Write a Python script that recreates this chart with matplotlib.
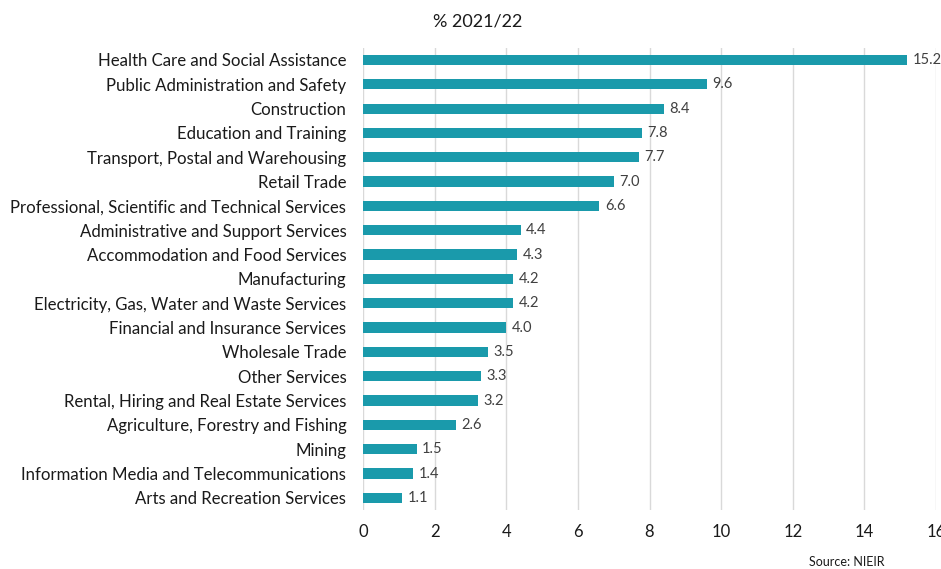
import numpy as np
from matplotlib import pyplot as plt

industries = [
    "Health Care and Social Assistance",
    "Public Administration and Safety",
    "Construction",
    "Education and Training",
    "Transport, Postal and Warehousing",
    "Retail Trade",
    "Professional, Scientific and Technical Services",
    "Administrative and Support Services",
    "Accommodation and Food Services",
    "Manufacturing",
    "Electricity, Gas, Water and Waste Services",
    "Financial and Insurance Services",
    "Wholesale Trade",
    "Other Services",
    "Rental, Hiring and Real Estate Services",
    "Agriculture, Forestry and Fishing",
    "Mining",
    "Information Media and Telecommunications",
    "Arts and Recreation Services",
]
shares = [15.2, 9.6, 8.4, 7.8, 7.7, 7.0, 6.6, 4.4, 4.3, 4.2, 4.2, 4.0,
          3.5, 3.3, 3.2, 2.6, 1.5, 1.4, 1.1]
xticks = [0, 2, 4, 6, 8, 10, 12, 14, 16]

plt.rcParams["font.family"] = ["Lato", "DejaVu Sans"]

fig = plt.figure(figsize=(9.41, 5.69), dpi=100)
ax = fig.add_axes([0.3858, 0.1037, 0.6089, 0.8123])

y = np.arange(len(industries))
ax.barh(y, shares, height=0.42, color="#1a9aab", zorder=3)
for yi, v in zip(y, shares):
    ax.text(v + 0.15, yi, f"{v:.1f}", va="center", ha="left",
            fontsize=10.5, color="#404040", clip_on=False)

ax.set_xlim(0, 16)
ax.set_ylim(len(industries) - 0.5, -0.5)
ax.set_yticks(y)
ax.set_yticklabels(industries, fontsize=12.1, color="#1a1a1a")
ax.set_xticks(xticks)
ax.set_xticklabels([str(t) for t in xticks], fontsize=12, color="#1a1a1a")
ax.tick_params(length=0)
ax.tick_params(axis="x", pad=10)
ax.tick_params(axis="y", pad=12)
ax.grid(axis="x", color="#d9d9d9", linewidth=1, zorder=0)
for s in ax.spines.values():
    s.set_visible(False)

fig.text(0.508, 0.963, "% 2021/22", ha="center", va="center", fontsize=13,
         color="#1a1a1a")
fig.text(0.86, 0.002, "Source: NIEIR", ha="left", va="bottom", fontsize=9,
         color="#1a1a1a")

fig.savefig("out.png", dpi=100)
